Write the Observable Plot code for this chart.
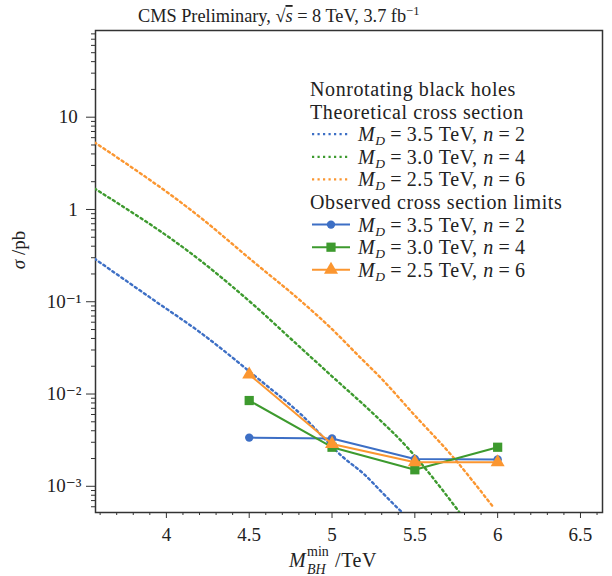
<!DOCTYPE html>
<html><head><meta charset="utf-8">
<script src="https://cdn.jsdelivr.net/npm/d3@7"></script>
<script src="https://cdn.jsdelivr.net/npm/@observablehq/plot@0.6"></script>
<style>body{margin:0;background:#fff} #chart{width:612px;height:576px}</style>
</head><body><div id="chart"></div>
<script>
// ---- data ----
const seriesMD = ["3.5", "3.0", "2.5"];
const seriesN = ["2", "4", "6"];
const colors = ["#3d6fc5", "#3d9a2e", "#fb9630"];
const symbols = ["circle", "square", "triangle"];

// theoretical cross sections (pb)
const theoX_n2 = [3.565, 3.928, 4.205, 4.568, 4.809, 5.069, 5.19, 5.31, 5.401, 5.425];
const theoY_n2 = [0.294, 0.103, 0.0464, 0.014, 0.0061, 0.00205, 0.00137, 0.00083, 0.00057, 0.00052];
const theoX_n4 = [3.565, 4.205, 4.531, 4.809, 5.008, 5.25, 5.455, 5.655, 5.775];
const theoY_n4 = [1.69, 0.28, 0.091, 0.0319, 0.0151, 0.0061, 0.00263, 0.00097, 0.000506];
const theoX_n6 = [3.565, 4.205, 4.531, 4.809, 4.99, 5.171, 5.292, 5.491, 5.733, 5.975];
const theoY_n6 = [5.36, 0.82, 0.266, 0.103, 0.0525, 0.0248, 0.0151, 0.0061, 0.00205, 0.00059];

// observed limits (pb)
const obsX = [4.5, 5.0, 5.5, 6.0];
const obsY_n2 = [0.00337, 0.00329, 0.00198, 0.00195];
const obsY_n4 = [0.0085, 0.00265, 0.00151, 0.00265];
const obsY_n6 = [0.01626, 0.00288, 0.00182, 0.00182];

// ticks
const xMajor = [4, 4.5, 5, 5.5, 6, 6.5];
const yMajor = [0.001, 0.01, 0.1, 1, 10];
const yTickLabels = ["10\u207B\u00B3", "10\u207B\u00B2", "10\u207B\u00B9", "1\u2009", "10\u2009"];

// ---- build tables ----
const theo = [
  theoX_n2.map((x, i) => ({x, y: theoY_n2[i], s: 0})),
  theoX_n4.map((x, i) => ({x, y: theoY_n4[i], s: 1})),
  theoX_n6.map((x, i) => ({x, y: theoY_n6[i], s: 2}))
];
const obs = [obsY_n2, obsY_n4, obsY_n6].map((ys, s) => obsX.map((x, i) => ({x, y: ys[i], s})));

const xMinor = d3.range(36, 67).map(v => v / 10).filter(v => !xMajor.some(m => Math.abs(m - v) < 1e-9));
const yMinor = [];
for (let d = -4; d <= 1; d++) for (let k = 2; k <= 9; k++) yMinor.push(k * Math.pow(10, d));
const yDomain = [5.2e-4, 87];
const yMinorIn = yMinor.filter(v => v >= yDomain[0] && v <= yDomain[1]);
const fmtY = v => yTickLabels[yMajor.findIndex(m => Math.abs(m - v) / m < 1e-6)];

const FONT = "'Liberation Serif', 'DejaVu Serif', serif";
const axisColor = "#333";
const marks = [
  Plot.frame({stroke: axisColor, strokeWidth: 1.5}),
  Plot.axisX({ticks: xMinor, tickSize: 3, tickFormat: () => "", label: null, stroke: axisColor}),
  Plot.axisX({ticks: xMajor, tickSize: 6, tickPadding: 9, tickFormat: d => String(d), label: null, stroke: axisColor, fontSize: 19, fill: "#222"}),
  Plot.axisY({ticks: yMinorIn, tickSize: 4, tickFormat: () => "", label: null, stroke: axisColor}),
  Plot.axisY({ticks: yMajor, tickSize: 9, tickPadding: 5, tickFormat: fmtY, label: null, stroke: axisColor, fontSize: 19, fill: "#222"})
];
theo.forEach((data, s) => marks.push(
  Plot.line(data, {x: "x", y: "y", stroke: colors[s], strokeWidth: 2.4, strokeDasharray: "2.2,3.3", curve: "monotone-x", clip: true})
));
obs.forEach((data, s) => {
  marks.push(Plot.line(data, {x: "x", y: "y", stroke: colors[s], strokeWidth: 2}));
  marks.push(Plot.dot(data, {x: "x", y: "y", fill: colors[s], symbol: symbols[s], r: s === 0 ? 4.2 : 5.2, stroke: "none"}));
});

const chart = Plot.plot({
  width: 612, height: 576,
  marginTop: 30, marginLeft: 95, marginRight: 10, marginBottom: 64,
  x: {domain: [3.572, 6.633]},
  y: {type: "log", domain: yDomain},
  style: {fontFamily: FONT, fontSize: "19px", color: "#222", background: "#fff"},
  marks
});
document.getElementById("chart").appendChild(chart);

// ---- annotations (title, axis labels, legend) ----
const svg = d3.select(chart);
svg.selectAll("text").attr("font-family", FONT);
const g = svg.append("g").attr("font-family", FONT).attr("fill", "#222").attr("text-anchor", "start");

// title
const t = g.append("text").attr("x", 138).attr("y", 22).attr("font-size", 18.3);
t.append("tspan").text("CMS Preliminary, \u221A");
t.append("tspan").attr("font-style", "italic").attr("text-decoration", "overline").text("s");
t.append("tspan").text(" = 8 TeV, 3.7 fb");
t.append("tspan").attr("font-size", 12.5).attr("dy", -7).text("\u22121");

// y label
const yl = g.append("text").attr("transform", "translate(25,250) rotate(-90)").attr("text-anchor", "middle").attr("font-size", 19);
yl.append("tspan").attr("font-style", "italic").text("\u03C3");
yl.append("tspan").text(" /pb");

// x label
g.append("text").attr("x", 289).attr("y", 567).attr("font-size", 20).attr("font-style", "italic").text("M");
g.append("text").attr("x", 307).attr("y", 556).attr("font-size", 14).text("min");
g.append("text").attr("x", 307).attr("y", 574).attr("font-size", 14).attr("font-style", "italic").text("BH");
g.append("text").attr("x", 335).attr("y", 567).attr("font-size", 20).attr("letter-spacing", 0.6).text("/TeV");

// legend
const fs = 20, lh = 22.6, base = 96, tx0 = 310, lx0 = 312, lx1 = 350, tx1 = 358, ls = 0.6;
const lg = g.append("g").attr("letter-spacing", ls);
function entryText(y, s) {
  const el = lg.append("text").attr("x", tx1).attr("y", y).attr("font-size", fs);
  el.append("tspan").attr("font-style", "italic").text("M");
  el.append("tspan").attr("font-style", "italic").attr("font-size", 13.5).attr("dy", 4).text("D");
  el.append("tspan").attr("dy", -4).text("\u2009=\u2009" + seriesMD[s] + " TeV, ");
  el.append("tspan").attr("font-style", "italic").text("n");
  el.append("tspan").text("\u2009=\u2009" + seriesN[s]);
}
lg.append("text").attr("x", tx0).attr("y", base).attr("font-size", fs).text("Nonrotating black holes");
lg.append("text").attr("x", tx0).attr("y", base + lh).attr("font-size", fs).text("Theoretical cross section");
for (let s = 0; s < 3; s++) {
  const y = base + lh * (2 + s);
  lg.append("line").attr("x1", lx0).attr("x2", lx1).attr("y1", y - 7).attr("y2", y - 7)
    .attr("stroke", colors[s]).attr("stroke-width", 2.2).attr("stroke-dasharray", "2.2,3.3");
  entryText(y, s);
}
lg.append("text").attr("x", tx0).attr("y", base + lh * 5).attr("font-size", fs).text("Observed cross section limits");
const sym = [d3.symbolCircle, d3.symbolSquare, d3.symbolTriangle];
for (let s = 0; s < 3; s++) {
  const y = base + lh * (6 + s);
  lg.append("line").attr("x1", lx0).attr("x2", lx1).attr("y1", y - 7).attr("y2", y - 7)
    .attr("stroke", colors[s]).attr("stroke-width", 2);
  const r = s === 0 ? 4.2 : 5.2;
  lg.append("path").attr("d", d3.symbol(sym[s], Math.PI * r * r)()).attr("transform", `translate(${(lx0 + lx1) / 2},${y - 7})`).attr("fill", colors[s]);
  entryText(y, s);
}
</script></body></html>
